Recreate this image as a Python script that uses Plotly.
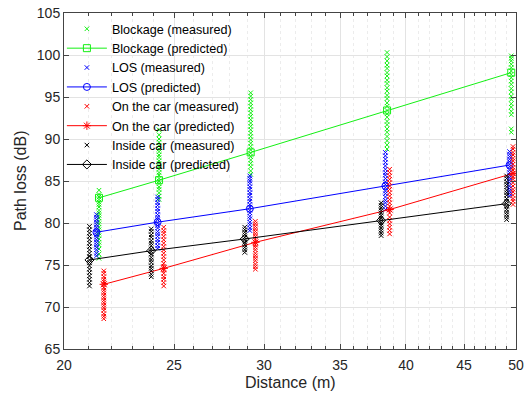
import plotly.graph_objects as go

# Distances (m) of each measurement cluster, per scenario
block_d = [21.47, 24.25, 29.2, 38.5, 49.52]
los_d = [21.36, 24.18, 29.15, 38.37, 49.35]
car_d = [21.68, 24.48, 29.48, 38.7, 49.7]
inside_d = [21.06, 23.87, 28.85, 38.04, 49.06]

# Predicted path loss (dB)
block_pred = [83.0, 85.1, 88.4, 93.4, 97.9]
los_pred = [78.9, 80.1, 81.7, 84.4, 86.9]
car_pred = [72.7, 74.6, 77.7, 81.6, 85.9]
inside_pred = [75.6, 76.7, 78.1, 80.3, 82.3]

# Measured path loss (dB), one list per distance cluster
block_meas = [
    [75.8, 76.3, 76.9, 77.4, 77.7, 78.1, 78.5, 78.8, 79.2, 79.5, 79.9, 80.2, 80.6, 80.9, 81.2, 81.5, 81.9, 82.2, 82.5, 82.8, 83.1, 83.4, 83.9],
    [82.8, 83.2, 83.6, 84.0, 84.3, 84.7, 85.0, 85.3, 85.7, 86.0, 86.4, 86.7, 87.1, 87.4, 87.8, 88.1, 88.5, 88.8, 89.2, 89.6, 90.0, 90.5, 91.1],
    [85.8, 86.2, 86.7, 87.1, 87.5, 87.9, 88.3, 88.7, 89.1, 89.5, 89.9, 90.3, 90.7, 91.1, 91.5, 91.9, 92.3, 92.7, 93.1, 93.5, 93.9, 94.3, 94.7, 95.1, 95.5],
    [88.8, 89.3, 89.8, 90.3, 90.8, 91.2, 91.7, 92.1, 92.6, 93.0, 93.4, 93.9, 94.3, 94.8, 95.2, 95.7, 96.1, 96.6, 97.0, 97.5, 97.9, 98.4, 98.8, 99.3, 99.8, 100.3],
    [90.8, 91.2, 92.9, 93.3, 93.8, 94.2, 94.7, 95.1, 95.6, 96.0, 96.5, 96.9, 97.3, 97.7, 98.1, 98.5, 98.9, 99.3, 99.6, 99.9],
]
los_meas = [
    [76.1, 76.4, 76.8, 77.1, 77.4, 77.7, 78.0, 78.3, 78.6, 78.9, 79.2, 79.5, 79.8, 80.1, 80.4, 80.7, 81.0],
    [77.0, 77.3, 77.7, 78.0, 78.4, 78.7, 79.0, 79.4, 79.7, 80.0, 80.4, 80.7, 81.0, 81.4, 81.7, 82.1, 82.4, 82.8, 83.1],
    [79.1, 79.4, 79.8, 80.1, 80.5, 80.8, 81.2, 81.5, 81.9, 82.2, 82.6, 82.9, 83.3, 83.6, 84.0, 84.3, 84.7, 85.0, 85.3, 85.6],
    [81.6, 82.0, 82.4, 82.7, 83.1, 83.5, 83.8, 84.2, 84.6, 84.9, 85.3, 85.7, 86.0, 86.4, 86.8, 87.2, 87.6, 88.0, 88.4],
    [83.2, 83.5, 83.8, 84.1, 84.4, 84.8, 85.1, 85.4, 85.7, 86.0, 86.3, 86.7, 87.0, 87.3, 87.6, 87.9, 88.2, 88.5],
]
car_meas = [
    [68.6, 68.9, 69.2, 69.6, 69.9, 70.2, 70.5, 70.8, 71.1, 71.4, 71.7, 72.0, 72.3, 72.7, 73.0, 73.3, 73.6, 74.0, 74.3],
    [72.5, 72.9, 73.3, 73.6, 74.0, 74.4, 74.8, 75.2, 75.6, 76.0, 76.4, 76.8, 77.2, 77.6, 78.0, 78.4, 78.8, 79.1, 79.5],
    [74.5, 74.8, 75.1, 75.5, 75.8, 76.1, 76.4, 76.8, 77.1, 77.4, 77.7, 78.1, 78.4, 78.7, 79.0, 79.3, 79.6, 79.9, 80.2],
    [78.7, 79.1, 79.5, 79.9, 80.3, 80.7, 81.2, 81.6, 82.0, 82.4, 82.8, 83.2, 83.6, 84.0, 84.4, 84.8, 85.2, 85.6, 86.0, 86.4],
    [82.2, 82.6, 82.9, 83.3, 83.7, 84.0, 84.4, 84.8, 85.2, 85.5, 85.9, 86.3, 86.6, 87.0, 87.4, 87.7, 88.1, 88.4, 88.8, 89.1],
]
inside_meas = [
    [72.5, 72.9, 73.3, 73.7, 74.1, 74.5, 74.9, 75.3, 75.6, 76.0, 76.4, 76.8, 77.2, 77.6, 78.0, 78.4, 78.8, 79.2, 79.6],
    [73.6, 73.9, 74.3, 74.6, 74.9, 75.3, 75.6, 75.9, 76.3, 76.6, 76.9, 77.3, 77.6, 77.9, 78.3, 78.6, 79.0, 79.3],
    [76.5, 76.8, 77.1, 77.4, 77.7, 78.0, 78.3, 78.6, 78.9, 79.2, 79.5],
    [78.5, 78.8, 79.1, 79.4, 79.7, 80.0, 80.3, 80.6, 80.9, 81.2, 81.5, 81.8, 82.1, 82.4],
    [80.4, 80.7, 81.0, 81.3, 81.6, 82.0, 82.3, 82.6, 82.9, 83.3, 83.6, 83.9, 84.3, 84.6, 84.9, 85.3, 85.6],
]

x_ticks = [20, 25, 30, 35, 40, 45, 50]
y_ticks = [65, 70, 75, 80, 85, 90, 95, 100, 105]
x_title = "Distance (m)"
y_title = "Path loss (dB)"


def flatten(dists, meas):
    xs, ys = [], []
    for d, vals in zip(dists, meas):
        xs += [d] * len(vals)
        ys += vals
    return xs, ys


series = [
    ("Blockage", block_d, block_meas, block_pred, "rgb(20,240,20)", "square-open"),
    ("LOS", los_d, los_meas, los_pred, "rgb(0,0,255)", "circle-open"),
    ("On the car", car_d, car_meas, car_pred, "rgb(255,0,0)", "asterisk-open"),
    ("Inside car", inside_d, inside_meas, inside_pred, "rgb(0,0,0)", "diamond-open"),
]

fig = go.Figure()
for name, d, meas, pred, color, sym in series:
    mx, my = flatten(d, meas)
    fig.add_trace(go.Scatter(
        x=mx, y=my, mode="markers", name=f"{name} (measured)",
        marker=dict(symbol="x-thin-open", size=4.5, color=color, line=dict(width=1, color=color)),
    ))
    fig.add_trace(go.Scatter(
        x=d, y=pred, mode="lines+markers", name=f"{name} (predicted)",
        line=dict(color=color, width=1),
        marker=dict(symbol=sym, size=7, color=color, line=dict(width=1, color=color)),
    ))

font_family = "Arial, Liberation Sans, sans-serif"
fig.update_layout(
    width=529, height=397,
    margin=dict(l=64, r=13, t=13, b=48, autoexpand=False),
    plot_bgcolor="white", paper_bgcolor="white",
    font=dict(family=font_family, size=14, color="#262626"),
    legend=dict(xref="container", yref="container", x=0.117, y=0.9645,
                xanchor="left", yanchor="top",
                bgcolor="rgba(0,0,0,0)", font=dict(size=12.6, color="black"),
                itemwidth=40, tracegroupgap=0),
    showlegend=True,
    annotations=[
        dict(text=x_title, xref="paper", yref="paper", x=0.5, y=0, yshift=-33,
             xanchor="center", yanchor="middle", showarrow=False,
             font=dict(size=16, color="#262626")),
        dict(text=y_title, xref="paper", yref="paper", x=0, y=0.5, xshift=-44,
             xanchor="center", yanchor="middle", textangle=-90, showarrow=False,
             font=dict(size=16, color="#262626")),
    ],
)
fig.update_xaxes(
    type="log", range=[1.30103, 1.69897], automargin=False,
    tickvals=x_ticks, ticktext=[str(v) for v in x_ticks],
    ticks="inside", ticklen=5, tickcolor="#444", showline=True, linecolor="#444", mirror="ticks",
    showgrid=True, gridcolor="#e3e3e3", gridwidth=1, ticklabelstandoff=3,
    minor=dict(tickvals=list(range(20, 51)), ticks="inside", ticklen=3, tickcolor="#444",
               showgrid=True, gridcolor="#ececec", griddash="dot"),
    zeroline=False,
)
fig.update_yaxes(
    range=[65, 105], automargin=False, tickvals=y_ticks,
    ticks="inside", ticklen=5, tickcolor="#444", showline=True, linecolor="#444", mirror="ticks",
    showgrid=True, gridcolor="#e3e3e3", gridwidth=1,
    zeroline=False,
)

fig.write_html(
    "out.html",
    config={"displayModeBar": False},
    post_script="document.body.style.margin='0';document.body.style.overflow='hidden';",
)
